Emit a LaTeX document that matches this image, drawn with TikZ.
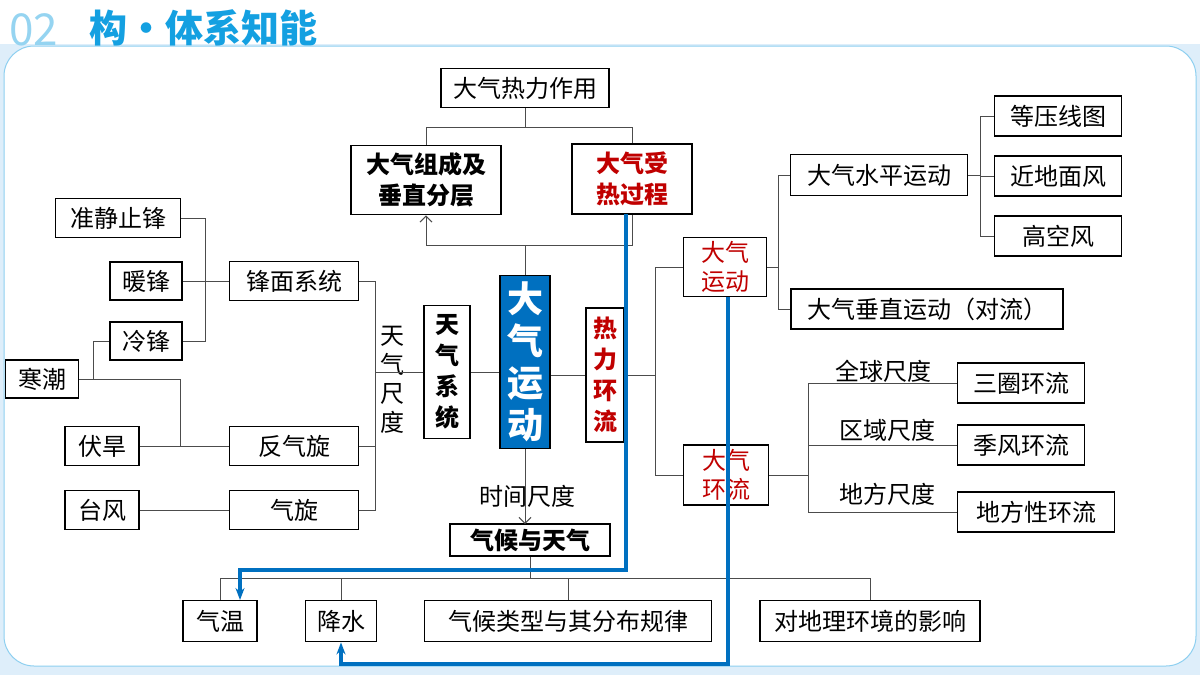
\documentclass[tikz,border=0pt]{standalone}
\usepackage{fontspec}
\setmainfont{Noto Sans CJK SC}
\usepackage{tikz}
\usetikzlibrary{arrows.meta}
\definecolor{boxblue}{RGB}{0,112,192}
\definecolor{boxred}{RGB}{192,0,0}
\definecolor{titleblue}{RGB}{20,160,225}
\definecolor{pagebg}{RGB}{222,238,250}
\tikzset{
  box/.style={draw=black, line width=1.8pt, fill=white, inner sep=0pt, font=\fontsize{24}{29}\selectfont},
  bbox/.style={box, font=\fontsize{24}{31}\selectfont\bfseries},
  link/.style={draw=black!70, line width=1pt},
  track/.style={draw=boxblue, line width=4pt}
}
\begin{document}
\begin{tikzpicture}[x=1pt,y=-1pt]
\useasboundingbox (0,0) rectangle (1200,675);
\fill[pagebg] (0,0) rectangle (1200,675);
\fill[white] (0,0) rectangle (1200,44);
\draw[pagebg!60!titleblue, line width=1pt, fill=white, rounded corners=30pt] (4,46) rectangle (1196,666);

% title
\node[anchor=west, text=titleblue!45, font=\fontsize{44}{44}\selectfont\itshape] (num) at (6,30) {02};
\node[anchor=west, text=titleblue, font=\fontsize{38}{38}\selectfont\bfseries] (title) at (86,28) {构·体系知能};

% top block
\node[box, minimum width=168pt, minimum height=39pt] (rely) at (525,88) {大气热力作用};
\node[bbox, minimum width=150pt, minimum height=69pt, align=center] (comp) at (426,180) {大气组成及\\垂直分层};
\node[bbox, minimum width=120pt, minimum height=70pt, align=center, text=boxred] (heat) at (632,179) {大气受\\热过程};

% centre
\node[box, fill=boxblue, text=white, minimum width=50pt, minimum height=173pt, align=center,
  font=\fontsize{36}{42}\selectfont\bfseries] (move) at (525,362) {大\\气\\运\\动};
\node[bbox, minimum width=46pt, minimum height=133pt, align=center, font=\fontsize{24}{31}\selectfont\bfseries] (sys) at (447,372) {天\\气\\系\\统};
\node[bbox, minimum width=38pt, minimum height=134pt, align=center, text=boxred] (circ) at (605,375) {热\\力\\环\\流};

% right side
\node[box, minimum width=83pt, minimum height=59pt, align=center, text=boxred, font=\fontsize{24}{29}\selectfont] (amove) at (725,267) {大气\\运动};
\node[box, minimum width=85pt, minimum height=60pt, align=center, text=boxred, font=\fontsize{24}{29}\selectfont] (acirc) at (726,475) {大气\\环流};
\node[box, minimum width=177pt, minimum height=41pt] (horiz) at (879,175) {大气水平运动};
\node[box, minimum width=272pt, minimum height=40pt] (vert) at (927,309) {大气垂直运动（对流）};
\node[box, minimum width=127pt, minimum height=40pt] (isob) at (1058,116) {等压线图};
\node[box, minimum width=127pt, minimum height=40pt] (sfc) at (1058,176) {近地面风};
\node[box, minimum width=127pt, minimum height=40pt] (upper) at (1058,236) {高空风};
\node[box, minimum width=127pt, minimum height=40pt] (three) at (1021,383) {三圈环流};
\node[box, minimum width=127pt, minimum height=40pt] (mons) at (1021,445) {季风环流};
\node[box, minimum width=157pt, minimum height=40pt] (local) at (1036,512) {地方性环流};
\node[font=\fontsize{24}{28}\selectfont] (glob) at (883,371) {全球尺度};
\node[font=\fontsize{24}{28}\selectfont] (regn) at (887,430) {区域尺度};
\node[font=\fontsize{24}{28}\selectfont] (loca) at (887,494) {地方尺度};

% left side
\node[box, minimum width=129pt, minimum height=39pt] (front) at (294,281) {锋面系统};
\node[box, minimum width=129pt, minimum height=39pt] (anti) at (294,446) {反气旋};
\node[box, minimum width=129pt, minimum height=39pt] (cyc) at (294,510) {气旋};
\node[box, minimum width=125pt, minimum height=39pt] (stat) at (118,218) {准静止锋};
\node[box, minimum width=72pt, minimum height=38pt] (warm) at (146,281) {暖锋};
\node[box, minimum width=72pt, minimum height=38pt] (cold) at (146,341) {冷锋};
\node[box, minimum width=73pt, minimum height=38pt] (wave) at (42,379) {寒潮};
\node[box, minimum width=74pt, minimum height=39pt] (drou) at (102,446) {伏旱};
\node[box, minimum width=74pt, minimum height=39pt] (typh) at (102,510) {台风};
\node[align=center, font=\fontsize{24}{29}\selectfont] (wscale) at (392,380) {天\\气\\尺\\度};

% bottom
\node[bbox, minimum width=160pt, minimum height=32pt] (clim) at (530,540) {气候与天气};
\node[font=\fontsize{24}{28}\selectfont] (tscale) at (527,496) {时间尺度};
\node[box, minimum width=74pt, minimum height=41pt] (temp) at (220,621) {气温};
\node[box, minimum width=71pt, minimum height=41pt] (rain) at (341,621) {降水};
\node[box, minimum width=287pt, minimum height=41pt] (ctype) at (568,621) {气候类型与其分布规律};
\node[box, minimum width=220pt, minimum height=41pt] (envi) at (870,621) {对地理环境的影响};

% connectors
\draw[link] (rely.south) -- (525,127) -| (comp.north);
\draw[link] (525,127) -| (heat.north);
\draw[link] (move.north) -- (525,245);
\draw[link, -{Straight Barb[length=6pt]}] (525,245) -| (comp.south);
\draw[link] (525,245) -| (heat.south);
\draw[link] (sys.east) -- (sys.east -| move.west);
\draw[link] (circ.west) -- (circ.west -| move.east);
\draw[link] (circ.east) -- (655,375);
\draw[link] (amove.west) -| (655,475) -- (acirc.west);
\draw[link] (amove.east) -- (778,267);
\draw[link] (horiz.west) -| (778,309) -- (vert.west);
\draw[link] (horiz.east) -- (980,175);
\draw[link] (isob.west) -| (980,236) -- (upper.west);
\draw[link] (sfc.west) -- (980,176);
\draw[link] (acirc.east) -- (808,475);
\draw[link] (three.west) -| (808,512) -- (local.west);
\draw[link] (mons.west) -- (808,445);
\draw[link] (front.east) -| (375,510) -- (cyc.east);
\draw[link] (anti.east) -- (375,446);
\draw[link] (375,372) -- (sys.west);
\draw[link] (stat.east) -| (205,341) -- (cold.east);
\draw[link] (warm.east) -- (front.west);
\draw[link] (wave.east) -- (93,379) |- (cold.west);
\draw[link] (93,379) -- (180,379) |- (anti.west);
\draw[link] (drou.east) -- (anti.west);
\draw[link] (typh.east) -- (cyc.west);
\draw[link, -{Straight Barb[length=6pt]}] (move.south) -- (525,524);
\draw[link] (clim.south) -- (530,578);
\draw[link] (temp.north) -- (220,578) -| (envi.north);
\draw[link] (rain.north) -- (341,578);
\draw[link] (ctype.north) -- (568,578);

% blue tracks
\draw[track, -{Stealth[length=12pt]}] (626,214) -- (626,570) -| (240,600);
\draw[track, -{Stealth[length=12pt]}] (728,297) -- (728,664) -| (rain.south);
\end{tikzpicture}
\end{document}
